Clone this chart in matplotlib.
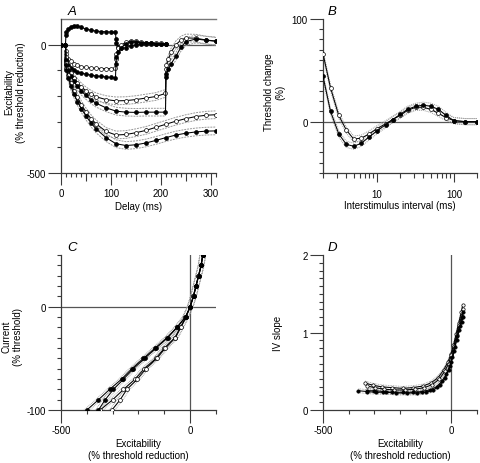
import matplotlib
matplotlib.use("Agg")
import matplotlib.pyplot as plt
import numpy as np
from matplotlib.ticker import FixedLocator, FuncFormatter, NullFormatter, LogLocator

plt.rcParams['font.family'] = ['Liberation Sans', 'DejaVu Sans']
plt.rcParams['axes.unicode_minus'] = False
plt.rcParams['font.size'] = 7

# ---- panel A: threshold electrotonus ----
delay_100 = [0, 9, 10, 11, 15, 20, 26, 33, 41, 50, 60, 70, 80, 90, 100, 109,
             110, 111, 115, 120, 130, 140, 150, 160, 170, 180, 190, 200, 210]
depol_100_fill = [0, 0, 38, 48, 62, 70, 74, 72, 67, 61, 56, 53, 51, 50, 49, 48,
                  20, 8, -8, -14, -12, -4, 0, 2, 3, 3, 3, 2, 2]
hyp_100_open = [0, 0, -25, -35, -55, -65, -74, -80, -86, -89, -91, -92, -93, -93, -93, -92,
                -55, -35, -15, -3, 10, 15, 13, 10, 8, 7, 6, 5, 4]
hyp_100_fill = [0, 0, -55, -68, -80, -90, -100, -106, -111, -115, -119, -122, -124, -126, -128, -129,
                -75, -50, -28, -12, 4, 10, 10, 8, 6, 5, 4, 3, 3]

delay_200 = [0, 9, 10, 11, 15, 20, 26, 33, 41, 50, 60, 70, 90, 110, 130, 150, 170, 190, 209,
             210, 211, 215, 220, 230, 240, 250, 270, 290, 310]
hyp_200_open = [0, 0, -50, -65, -90, -110, -130, -148, -165, -180, -193, -203, -214, -219, -218,
                -214, -208, -202, -190, -95, -80, -55, -30, 0, 18, 26, 25, 18, 14]
hyp_200_fill = [0, 0, -60, -75, -100, -122, -143, -163, -182, -198, -215, -228, -246, -259, -263,
                -264, -263, -263, -263, -125, -115, -95, -75, -45, -10, 12, 22, 17, 13]

delay_300 = [0, 9, 10, 11, 15, 20, 26, 33, 41, 50, 60, 70, 90, 110, 130, 150, 170, 190,
             210, 230, 250, 270, 290, 310]
hyp_300_open = [0, 0, -70, -90, -120, -150, -180, -205, -235, -262, -288, -308, -338, -352,
                -350, -343, -334, -322, -310, -298, -288, -280, -275, -273]
hyp_300_fill = [0, 0, -80, -100, -130, -162, -192, -222, -250, -278, -305, -328, -362, -386,
                -393, -390, -383, -373, -362, -352, -345, -340, -337, -336]
sem_A = 15

# ---- panel B: recovery cycle ----
isi = [2, 2.5, 3.2, 4, 5, 6.3, 7.9, 10, 13, 16, 20, 25, 32, 40, 50, 63, 79, 100, 140, 200]
rc_open = [66, 33, 6, -8, -17, -16, -12, -7, -2, 2, 6, 11, 14, 14, 12, 8, 4, 1, 0, 0]
rc_fill = [44, 10, -12, -22, -24, -21, -15, -9, -3, 2, 7, 12, 15, 16, 15, 12, 6, 1, 0, 0]
sem_B = 3

# ---- panel C: current-threshold relationship ----
current = [50, 40, 30, 20, 10, 0, -10, -20, -30, -40, -50, -60, -70, -80, -90, -100]
iv_fill_1 = [49, 43, 33, 23, 13, 0, -19, -52, -90, -136, -181, -226, -265, -312, -355, -400]
iv_fill_2 = [49, 43, 33, 23, 13, 0, -18, -50, -87, -132, -176, -220, -258, -297, -329, -355]
iv_open_1 = [48, 42, 32, 22, 12, 0, -17, -38, -60, -100, -133, -178, -213, -258, -300, -349]
iv_open_2 = [48, 42, 32, 22, 12, 0, -16, -36, -57, -96, -129, -172, -204, -245, -271, -303]
sem_C = 11

# ---- panel D: IV slope ----
sl_fill_1_x = [-362, -330, -295, -255, -215, -175, -135, -100, -70, -45, -25, -10, 0, 10, 20, 30, 40, 46]
sl_fill_1_y = [0.25, 0.24, 0.23, 0.23, 0.22, 0.22, 0.22, 0.23, 0.26, 0.32, 0.41, 0.52, 0.62, 0.76, 0.90, 1.03, 1.14, 1.20]
sl_fill_2_x = [-330, -300, -265, -230, -190, -150, -115, -85, -58, -38, -20, -7, 3, 13, 23, 33, 42, 46]
sl_fill_2_y = [0.25, 0.25, 0.24, 0.23, 0.23, 0.23, 0.24, 0.26, 0.30, 0.37, 0.46, 0.57, 0.68, 0.82, 0.96, 1.09, 1.20, 1.27]
sl_open_1_x = [-336, -305, -270, -230, -190, -150, -112, -80, -52, -30, -14, -2, 8, 18, 28, 38, 44]
sl_open_1_y = [0.35, 0.32, 0.30, 0.29, 0.28, 0.29, 0.31, 0.35, 0.42, 0.52, 0.62, 0.72, 0.84, 0.98, 1.12, 1.26, 1.35]
sl_open_2_x = [-329, -298, -262, -222, -182, -142, -105, -74, -47, -26, -11, 0, 10, 20, 30, 40, 45]
sl_open_2_y = [0.31, 0.29, 0.27, 0.26, 0.26, 0.27, 0.29, 0.33, 0.40, 0.50, 0.60, 0.71, 0.83, 0.97, 1.10, 1.22, 1.30]
sem_D = 0.025

AX = '#3a3a3a'
REF = '#555555'
SEMC = '#9a9a9a'

fill_kw = dict(color='black', marker='o', ms=2.8, mfc='black', mec='black', mew=0.5, lw=0.75)
open_kw = dict(color='black', marker='o', ms=2.8, mfc='white', mec='black', mew=0.5, lw=0.75)


def style(ax):
    for s in ['top', 'right']:
        ax.spines[s].set_visible(False)
    for s in ['left', 'bottom']:
        ax.spines[s].set_color(AX)
        ax.spines[s].set_linewidth(0.9)
    ax.tick_params(which='both', direction='out', color=AX, width=0.8)
    # labelled ticks are long, unlabelled ones short
    ax.tick_params(which='major', length=9.5, pad=1.5)
    ax.tick_params(which='minor', length=3.2)


fig = plt.figure(figsize=(4.8, 4.64), dpi=100)

# A
axA = fig.add_axes([0.127, 0.625, 0.323, 0.332])
style(axA)
axA.axhline(0, color=REF, lw=0.9, zorder=1)
axA.axhline(100, color='#777777', lw=1.0, zorder=1, clip_on=False)
for d, v in [(delay_200, hyp_200_open), (delay_200, hyp_200_fill),
             (delay_300, hyp_300_open), (delay_300, hyp_300_fill)]:
    v = np.array(v, float)
    d = np.array(d, float)
    m = d >= 10
    axA.plot(d[m], v[m] + sem_A, color=SEMC, lw=0.7, ls=(0, (2, 1)), zorder=2)
    axA.plot(d[m], v[m] - sem_A, color=SEMC, lw=0.7, ls=(0, (2, 1)), zorder=2)
axA.plot(delay_100, depol_100_fill, **fill_kw, zorder=4)
axA.plot(delay_100, hyp_100_open, **open_kw, zorder=4)
axA.plot(delay_100, hyp_100_fill, **fill_kw, zorder=4)
axA.plot(delay_200, hyp_200_open, **open_kw, zorder=4)
axA.plot(delay_200, hyp_200_fill, **fill_kw, zorder=4)
axA.plot(delay_300, hyp_300_open, **open_kw, zorder=4)
axA.plot(delay_300, hyp_300_fill, **fill_kw, zorder=4)
axA.set_xlim(0, 310)
axA.set_ylim(-500, 100)
xa_major = np.arange(0, 301, 50)
axA.xaxis.set_major_locator(FixedLocator(xa_major))
axA.xaxis.set_major_formatter(FuncFormatter(lambda v, p: ('%g' % v) if v % 100 == 0 else ''))
axA.xaxis.set_minor_locator(FixedLocator(np.arange(0, 311, 10)))
axA.tick_params(axis='x', which='major', length=8.5, pad=2.5)
for t, loc in zip(axA.xaxis.get_major_ticks(), xa_major):
    if loc % 100:
        t.tick1line.set_markersize(5.5)
axA.yaxis.set_major_locator(FixedLocator([-500, 0]))
axA.yaxis.set_minor_locator(FixedLocator(np.arange(-400, 1, 100)))
axA.set_xlabel('Delay (ms)', labelpad=2)
axA.set_ylabel('Excitability\n(% threshold reduction)')
axA.yaxis.set_label_coords(-0.225, 0.53)
axA.text(0.045, 1.035, 'A', transform=axA.transAxes, fontsize=9.5, style='italic')

# B
axB = fig.add_axes([0.673, 0.625, 0.321, 0.332])
style(axB)
axB.axhline(0, color=REF, lw=0.9, zorder=1)
for v in (rc_open, rc_fill):
    v = np.array(v, float)
    axB.plot(isi, v + sem_B, color=SEMC, lw=0.7, ls=(0, (1, 1)), zorder=2)
    axB.plot(isi, v - sem_B, color=SEMC, lw=0.7, ls=(0, (1, 1)), zorder=2)
axB.plot(isi, rc_open, **open_kw, zorder=4)
axB.plot(isi, rc_fill, **fill_kw, zorder=4)
axB.set_xscale('log')
axB.set_xlim(2, 200)
axB.set_ylim(-50, 100)
axB.xaxis.set_major_locator(FixedLocator([10, 100]))
axB.xaxis.set_major_formatter(FuncFormatter(lambda v, p: '%g' % v))
axB.xaxis.set_minor_locator(LogLocator(base=10, subs=np.arange(2, 10)))
axB.xaxis.set_minor_formatter(NullFormatter())
axB.tick_params(axis='x', which='major', length=6.5, pad=5)
axB.tick_params(axis='x', which='minor', length=3.5)
axB.yaxis.set_major_locator(FixedLocator([0, 100]))
axB.yaxis.set_minor_locator(FixedLocator(np.arange(-50, 101, 10)))
axB.set_xlabel('Interstimulus interval (ms)', labelpad=1)
axB.set_ylabel('Threshold change\n(%)')
axB.yaxis.set_label_coords(-0.245, 0.53)
axB.text(0.03, 1.035, 'B', transform=axB.transAxes, fontsize=9.5, style='italic')

# C
axC = fig.add_axes([0.127, 0.114, 0.323, 0.334])
style(axC)
axC.axhline(0, color=REF, lw=0.9, zorder=1)
axC.axvline(0, color=REF, lw=0.9, zorder=1)
for v in (iv_fill_1, iv_fill_2, iv_open_1, iv_open_2):
    v = np.array(v, float)
    axC.plot(v + sem_C, current, color=SEMC, lw=0.6, ls=(0, (1, 1)), zorder=2)
    axC.plot(v - sem_C, current, color=SEMC, lw=0.6, ls=(0, (1, 1)), zorder=2)
axC.plot(iv_open_1, current, **open_kw, zorder=4)
axC.plot(iv_open_2, current, **open_kw, zorder=4)
axC.plot(iv_fill_1, current, **fill_kw, zorder=5)
axC.plot(iv_fill_2, current, **fill_kw, zorder=5)
axC.set_xlim(-500, 100)
axC.set_ylim(-100, 50)
axC.xaxis.set_major_locator(FixedLocator([-500, 0]))
axC.xaxis.set_minor_locator(FixedLocator(np.arange(-400, 101, 100)))
axC.yaxis.set_major_locator(FixedLocator([-100, 0]))
axC.yaxis.set_minor_locator(FixedLocator(np.arange(-100, 51, 10)))
axC.set_xlabel('Excitability\n(% threshold reduction)', labelpad=2)
axC.set_ylabel('Current\n(% threshold)')
axC.yaxis.set_label_coords(-0.245, 0.48)
axC.text(0.04, 1.035, 'C', transform=axC.transAxes, fontsize=9.5, style='italic')

# D
axD = fig.add_axes([0.673, 0.114, 0.321, 0.334])
style(axD)
axD.axvline(0, color=REF, lw=0.9, zorder=1)
for xs, ys in [(sl_fill_1_x, sl_fill_1_y), (sl_fill_2_x, sl_fill_2_y),
               (sl_open_1_x, sl_open_1_y), (sl_open_2_x, sl_open_2_y)]:
    ys = np.array(ys, float)
    axD.plot(xs, ys + sem_D, color=SEMC, lw=0.6, ls=(0, (1, 1)), zorder=2)
    axD.plot(xs, ys - sem_D, color=SEMC, lw=0.6, ls=(0, (1, 1)), zorder=2)
small_open = dict(open_kw, ms=2.4)
small_fill = dict(fill_kw, ms=2.4)
axD.plot(sl_open_1_x, sl_open_1_y, **small_open, zorder=4)
axD.plot(sl_open_2_x, sl_open_2_y, **small_open, zorder=4)
axD.plot(sl_fill_1_x, sl_fill_1_y, **small_fill, zorder=5)
axD.plot(sl_fill_2_x, sl_fill_2_y, **small_fill, zorder=5)
axD.set_xlim(-500, 100)
axD.set_ylim(0, 2)
axD.xaxis.set_major_locator(FixedLocator([-500, 0]))
axD.xaxis.set_minor_locator(FixedLocator(np.arange(-400, 101, 100)))
axD.yaxis.set_major_locator(FixedLocator([0, 1, 2]))
axD.yaxis.set_minor_locator(FixedLocator(np.arange(0, 2.01, 0.1)))
axD.xaxis.set_major_formatter(FuncFormatter(lambda v, p: '%g' % v))
axD.yaxis.set_major_formatter(FuncFormatter(lambda v, p: '%g' % v))
axD.set_xlabel('Excitability\n(% threshold reduction)', labelpad=2)
axD.set_ylabel('IV slope')
axD.yaxis.set_label_coords(-0.26, 0.5)
axD.text(0.03, 1.035, 'D', transform=axD.transAxes, fontsize=9.5, style='italic')

fig.savefig('out.png', dpi=100)
